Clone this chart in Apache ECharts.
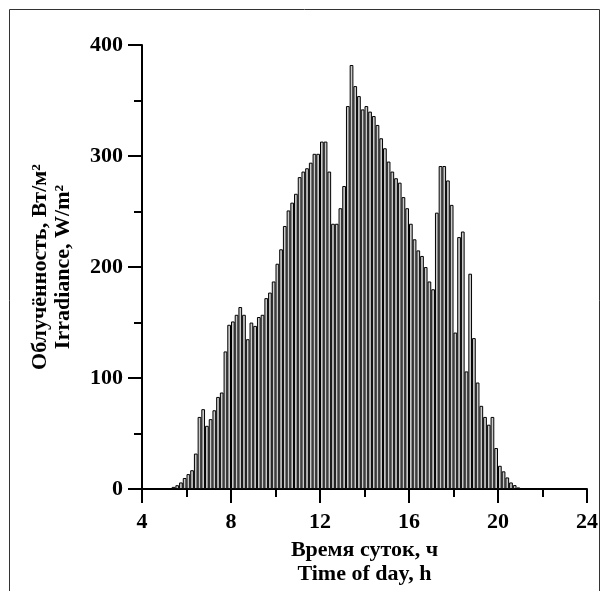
<!DOCTYPE html>
<html>
<head>
<meta charset="utf-8">
<script src="https://cdn.jsdelivr.net/npm/echarts@6/dist/echarts.min.js"></script>
<style>
  html, body { margin: 0; padding: 0; background: #fff; }
  #chart { width: 609px; height: 591px; }
</style>
</head>
<body>
<div id="chart"></div>
<script>
// 10-minute bins, first bin starts at 5:20
const firstBinStart = 5 + 20 / 60
const binHours = 1 / 6

// irradiance per bin, W/m2 (5:20 ... 20:50)
const irradiance = [
  2, 3.5, 6, 10, 13.5, 17, 32, 65, 72, 57,          // 5:20 - 6:50
  63, 71, 83, 87, 124, 148,                          // 7:00 - 7:50
  151, 157, 164, 157, 135, 150,                      // 8:00 - 8:50
  147, 155, 157, 172, 177, 187,                      // 9:00 - 9:50
  203, 216, 237, 251, 258, 266,                      // 10:00 - 10:50
  281, 286, 289, 294, 302, 302,                      // 11:00 - 11:50
  313, 313, 286, 239, 239, 253,                      // 12:00 - 12:50
  273, 345, 382, 363, 354, 342,                      // 13:00 - 13:50
  345, 340, 336, 328, 316, 307,                      // 14:00 - 14:50
  295, 286, 280, 276, 263, 253,                      // 15:00 - 15:50
  239, 225, 215, 210, 200, 187,                      // 16:00 - 16:50
  180, 249, 291, 291, 278, 256,                      // 17:00 - 17:50
  141, 227, 232, 106, 194, 136,                      // 18:00 - 18:50
  96, 75, 65, 58, 65, 37,                            // 19:00 - 19:50
  21, 16, 10.5, 6, 3.6, 1.5                          // 20:00 - 20:50
]

const xTicks = [4, 24, 4]      // min, max, step
const yTicks = [0, 400, 100]

const xName = 'Время суток, ч\nTime of day, h'
const yName = 'Облучённость, Вт/м²\nIrradiance, W/m²'

const font = '"Liberation Serif", "Times New Roman", serif'

const barData = irradiance.map((v, i) => [firstBinStart + binHours * (i + 0.5), v])

let draw = echarts.init(document.getElementById('chart'))
draw.setOption({
  animation: false,
  grid: { left: 142, right: 22, top: 45, bottom: 101 },
  graphic: [{
    type: 'rect',
    shape: { x: 9.5, y: 9.5, width: 590, height: 640 },
    style: { fill: 'none', stroke: '#333', lineWidth: 1 },
    z: -1
  }],
  xAxis: {
    type: 'value', min: xTicks[0], max: xTicks[1], interval: xTicks[2],
    name: xName, nameLocation: 'middle', nameGap: 47,
    nameTextStyle: { fontFamily: font, fontWeight: 'bold', fontSize: 22, color: '#000', lineHeight: 24 },
    axisLine: { show: true, lineStyle: { color: '#000', width: 2 } },
    axisTick: { show: true, inside: false, length: 14, lineStyle: { color: '#000', width: 2 } },
    minorTick: { show: true, splitNumber: 2, length: 8, lineStyle: { color: '#000', width: 2 } },
    splitLine: { show: false },
    axisLabel: { fontFamily: font, fontWeight: 'bold', fontSize: 22, color: '#000', margin: 22 }
  },
  yAxis: {
    type: 'value', min: yTicks[0], max: yTicks[1], interval: yTicks[2],
    name: yName, nameLocation: 'middle', nameGap: 67, nameRotate: 90,
    nameTextStyle: { fontFamily: font, fontWeight: 'bold', fontSize: 22, color: '#000', lineHeight: 23 },
    axisLine: { show: true, lineStyle: { color: '#000', width: 2 } },
    axisTick: { show: true, inside: false, length: 14, lineStyle: { color: '#000', width: 2 } },
    minorTick: { show: true, splitNumber: 2, length: 8, lineStyle: { color: '#000', width: 2 } },
    splitLine: { show: false },
    axisLabel: { fontFamily: font, fontWeight: 'bold', fontSize: 22, color: '#000', margin: 19 }
  },
  series: [{
    type: 'bar',
    data: barData,
    barWidth: '100%',
    itemStyle: { color: '#cacaca', borderColor: '#000', borderWidth: 1 }
  }]
})
</script>
</body>
</html>
